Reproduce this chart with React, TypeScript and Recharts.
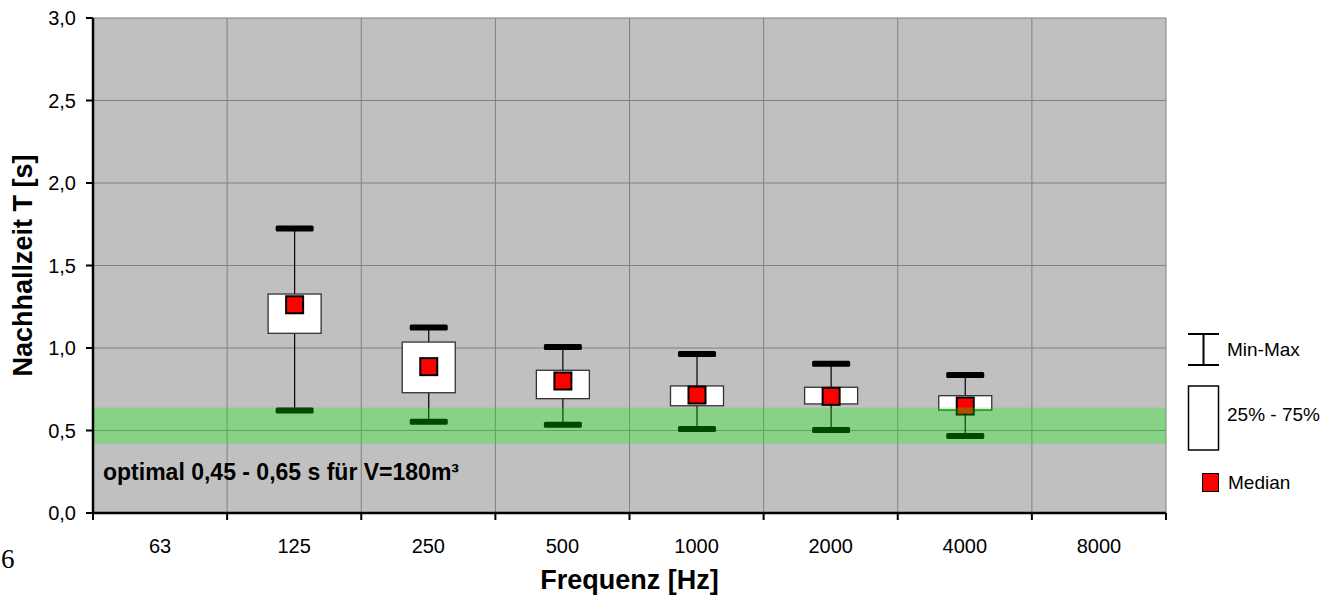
import React from 'react';
import {
  ComposedChart,
  Bar,
  XAxis,
  YAxis,
  CartesianGrid,
  ReferenceArea,
} from 'recharts';

// Oktavbänder
const frequencies = ['63', '125', '250', '500', '1000', '2000', '4000', '8000'];
// Nachhallzeit-Statistik je Band (63 Hz und 8000 Hz ohne Messwerte)
const minValues = [null, 0.621, 0.553, 0.535, 0.509, 0.503, 0.467, null];
const q1Values = [null, 1.089, 0.729, 0.693, 0.65, 0.661, 0.624, null];
const medianValues = [null, 1.262, 0.887, 0.8, 0.715, 0.707, 0.648, null];
const q3Values = [null, 1.327, 1.036, 0.865, 0.77, 0.762, 0.711, null];
const maxValues = [null, 1.724, 1.125, 1.006, 0.964, 0.905, 0.836, null];

const yTicks = [0, 0.5, 1, 1.5, 2, 2.5, 3];
// Bandgrenzen (Teilstriche) und Bandmitten (Beschriftung)
const bandEdges = [0, 1, 2, 3, 4, 5, 6, 7, 8];
const bandCenters = [0.5, 1.5, 2.5, 3.5, 4.5, 5.5, 6.5, 7.5];
const optimalRange = [0.42, 0.64];

const FONT = '"Liberation Sans", Arial, sans-serif';

const data = frequencies.map((f, i) => ({
  freq: f,
  pos: bandCenters[i],
  min: minValues[i],
  q1: q1Values[i],
  median: medianValues[i],
  q3: q3Values[i],
  max: maxValues[i],
}));

const xTicks = [...bandEdges, ...bandCenters].sort((a, b) => a - b);

const fmt = (v: number) => v.toFixed(1).replace('.', ',');

function BoxShape(props: any) {
  const { x, y, width, height, payload } = props;
  if (payload == null || payload.max == null) return null;
  const top = Math.min(y, y + height);
  const h = Math.abs(height);
  const span = payload.max - payload.min;
  const py = (v: number) => top + ((payload.max - v) / span) * h;
  const cx = x + width / 2;
  const capW = 38;
  const sq = 17;
  return (
    <g>
      <line x1={cx} x2={cx} y1={py(payload.max)} y2={py(payload.min)} stroke="#000" strokeWidth={1.2} />
      <rect
        x={x}
        y={py(payload.q3)}
        width={width}
        height={py(payload.q1) - py(payload.q3)}
        fill="#fff"
        stroke="#333"
        strokeWidth={1.3}
      />
      <rect x={cx - capW / 2} y={py(payload.max) - 3} width={capW} height={6} rx={1.5} fill="#000" />
      <rect x={cx - capW / 2} y={py(payload.min) - 3} width={capW} height={6} rx={1.5} fill="#000" />
      <rect
        x={cx - sq / 2}
        y={py(payload.median) - sq / 2}
        width={sq}
        height={sq}
        fill="#ff0000"
        stroke="#000"
        strokeWidth={2}
      />
    </g>
  );
}

// Ganze Werte: Teilstrich, halbe Werte: Frequenzbeschriftung
function FreqTick(props: any) {
  const { x, y, payload } = props;
  const v = payload.value;
  if (Number.isInteger(v)) {
    return <line x1={x} x2={x} y1={y} y2={y + 7} stroke="#000" strokeWidth={2} />;
  }
  return (
    <text x={x} y={y + 40} textAnchor="middle" fontFamily={FONT} fontSize={20} fill="#000">
      {frequencies[Math.floor(v)]}
    </text>
  );
}

export default function App() {
  return (
    <div style={{ position: 'absolute', left: 0, top: 0, width: 1343, height: 598, background: '#fff' }}>
      <style>{'html, body { margin: 0; overflow: hidden; }'}</style>
      <ComposedChart
        width={1343}
        height={598}
        data={data}
        margin={{ top: 18, right: 177, left: 0, bottom: 0 }}
        style={{ fontFamily: FONT }}
      >
        <CartesianGrid
          fill="#C0C0C0"
          stroke="#808080"
          strokeWidth={1}
          verticalValues={bandEdges}
          horizontalValues={yTicks}
        />
        <XAxis
          dataKey="pos"
          type="number"
          domain={[0, 8]}
          ticks={xTicks}
          allowDataOverflow
          interval={0}
          height={85}
          tick={FreqTick}
          tickSize={0}
          tickMargin={0}
          tickLine={false}
          axisLine={{ stroke: '#000', strokeWidth: 2.5 }}
          label={(p: any) => {
            const vb = p.viewBox;
            return (
              <text
                x={vb.x + vb.width / 2}
                y={589}
                textAnchor="middle"
                fontFamily={FONT}
                fontWeight="bold"
                fontSize={27}
                fill="#000"
              >
                Frequenz [Hz]
              </text>
            );
          }}
        />
        <YAxis
          domain={[0, 3]}
          ticks={yTicks}
          width={93}
          tickFormatter={fmt}
          tickSize={7}
          tickMargin={10}
          tick={{ fill: '#000', fontSize: 20, fontFamily: FONT }}
          tickLine={{ stroke: '#000', strokeWidth: 2 }}
          axisLine={{ stroke: '#000', strokeWidth: 2.5 }}
          label={(p: any) => {
            const vb = p.viewBox;
            const cy = vb.y + vb.height / 2;
            return (
              <text
                x={32}
                y={cy}
                transform={`rotate(-90, 32, ${cy})`}
                textAnchor="middle"
                fontFamily={FONT}
                fontWeight="bold"
                fontSize={27}
                fill="#000"
              >
                Nachhallzeit T [s]
              </text>
            );
          }}
        />
        <Bar
          dataKey={(d: any) => (d.max == null ? null : [d.min, d.max])}
          barSize={53}
          shape={BoxShape}
          isAnimationActive={false}
        />
        <ReferenceArea
          y1={optimalRange[0]}
          y2={optimalRange[1]}
          fill="#00ff00"
          fillOpacity={0.29}
          stroke="none"
          zIndex={350}
          label={(p: any) => {
            const vb = p.viewBox;
            return (
              <text
                x={vb.x + 10}
                y={vb.y + vb.height + 36}
                fontFamily={FONT}
                fontWeight="bold"
                fontSize={23}
                fill="#000"
              >
                optimal 0,45 - 0,65 s für V=180m³
              </text>
            );
          }}
        />
      </ComposedChart>
      <svg
        width={1343}
        height={598}
        style={{ position: 'absolute', left: 0, top: 0, pointerEvents: 'none', fontFamily: FONT }}
      >
        <g stroke="#000" strokeWidth={2}>
          <line x1={1188} x2={1219} y1={334} y2={334} />
          <line x1={1188} x2={1219} y1={365} y2={365} />
          <line x1={1203.5} x2={1203.5} y1={334} y2={365} />
        </g>
        <text x={1227} y={356} fontSize={19} fill="#000">Min-Max</text>
        <rect x={1188.5} y={386} width={30} height={64} fill="#fff" stroke="#000" strokeWidth={1.5} />
        <text x={1227} y={421} fontSize={19} fill="#000">25% - 75%</text>
        <rect x={1202.5} y={473.5} width={16} height={18} fill="#ff0000" stroke="#000" strokeWidth={1} />
        <text x={1228} y={489} fontSize={19} fill="#000">Median</text>
        <text x={1} y={568} fontSize={27} fontFamily="'Liberation Serif', 'DejaVu Serif', serif" fill="#000">
          6
        </text>
      </svg>
    </div>
  );
}
